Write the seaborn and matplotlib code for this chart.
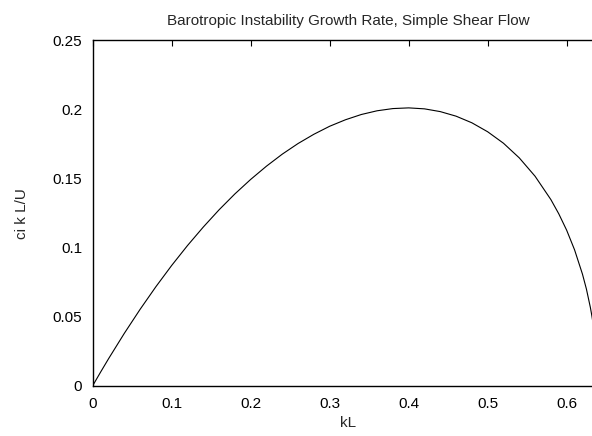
import matplotlib
matplotlib.use("Agg")
import matplotlib.pyplot as plt
import seaborn as sns
import pandas as pd

kL = [0.0, 0.01, 0.02, 0.04, 0.06, 0.08, 0.10, 0.12, 0.14, 0.16, 0.18, 0.20,
      0.22, 0.24, 0.26, 0.28, 0.30, 0.32, 0.34, 0.36, 0.38, 0.40, 0.42, 0.44,
      0.46, 0.48, 0.50, 0.52, 0.54, 0.56, 0.58, 0.59, 0.60, 0.61, 0.62, 0.625,
      0.63, 0.632, 0.634, 0.636, 0.638]
growth = [0.0, 0.00986, 0.01947, 0.0379, 0.0553, 0.0717, 0.0871, 0.1015,
          0.1149, 0.1274, 0.1389, 0.1494, 0.1590, 0.1677, 0.1754, 0.1821,
          0.1879, 0.1926, 0.1964, 0.1991, 0.2007, 0.2012, 0.2005, 0.1985,
          0.1952, 0.1904, 0.1839, 0.1756, 0.1650, 0.1517, 0.1348, 0.1245,
          0.1126, 0.0984, 0.0808, 0.0700, 0.0567, 0.0503, 0.0429, 0.0338,
          0.0209]
xticks = [0, 0.1, 0.2, 0.3, 0.4, 0.5, 0.6]
xticklabels = ["0", "0.1", "0.2", "0.3", "0.4", "0.5", "0.6"]
yticks = [0, 0.05, 0.1, 0.15, 0.2, 0.25]
yticklabels = ["0", "0.05", "0.1", "0.15", "0.2", "0.25"]

sns.set_style("white")
plt.rcParams['font.family'] = ['Liberation Sans', 'DejaVu Sans']

df = pd.DataFrame({"kL": kL, "growth": growth})
fig = plt.figure(figsize=(5.92, 4.36), dpi=100)
left, right, top, bottom = 92.7, 603.0, 40.5, 385.7
ax = fig.add_axes([left/592, (436-bottom)/436, (right-left)/592, (bottom-top)/436])
sns.lineplot(data=df, x="kL", y="growth", ax=ax, color="black", linewidth=0.8)
ax.set_xlim(0, 0.646)
ax.set_ylim(0, 0.25)
ax.set_xticks(xticks)
ax.set_xticklabels(xticklabels)
ax.set_yticks(yticks)
ax.set_yticklabels(yticklabels)
ax.tick_params(direction="in", length=4.3, width=0.8, top=True, right=True,
               labelsize=11, colors="black")
ax.tick_params(axis="x", pad=8)
ax.tick_params(axis="y", pad=7.5)
for s in ax.spines.values():
    s.set_visible(True)
    s.set_color("black")
    s.set_linewidth(1.0)
ax.set_xlabel("kL", fontsize=11, labelpad=4)
ax.set_ylabel("ci k L/U", fontsize=11, labelpad=17)
ax.set_title("Barotropic Instability Growth Rate, Simple Shear Flow", fontsize=11, pad=11)
fig.savefig("out.png", dpi=100)
